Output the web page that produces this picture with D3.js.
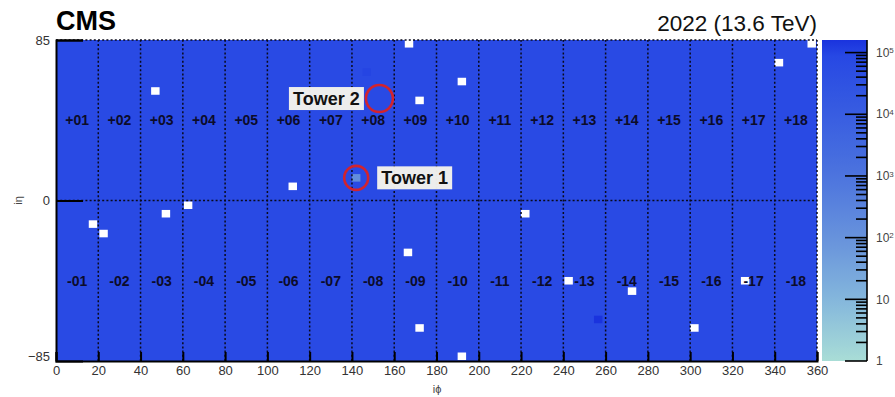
<!DOCTYPE html>
<html>
<head>
<meta charset="utf-8">
<script src="https://cdn.jsdelivr.net/npm/d3@7"></script>
<style>
  body { margin: 0; background: #fff; }
  svg { display: block; font-family: "Liberation Sans", Arial, Helvetica, sans-serif; }
</style>
</head>
<body>
<svg id="chart" width="895" height="397"></svg>
<script>
// ---- data -------------------------------------------------------------
const phiTicks = [0, 20, 40, 60, 80, 100, 120, 140, 160, 180, 200, 220, 240, 260, 280, 300, 320, 340, 360];
const etaTicks = [-85, 0, 85];
const colorTicks = [1, 10, 100, 1000, 10000, 100000];

// supermodule labels, one per 20 iphi
const smPlus  = ["+01","+02","+03","+04","+05","+06","+07","+08","+09","+10","+11","+12","+13","+14","+15","+16","+17","+18"];
const smMinus = ["-01","-02","-03","-04","-05","-06","-07","-08","-09","-10","-11","-12","-13","-14","-15","-16","-17","-18"];
const smPhiCentre = [10, 30, 50, 70, 90, 110, 130, 150, 170, 190, 210, 230, 250, 270, 290, 310, 330, 350];
const smEtaCentre = [42.5, -42.5];

// typical occupancy of a barrel crystal
const baseOccupancy = 70000;

// channels with no entries (iphi, ieta of block centre)
const deadPhi = [167, 47, 192, 172, 342, 357.5, 112, 17.5, 22.5, 52, 62.5, 222, 166.5, 242.5, 272.5, 326, 172, 302, 192];
const deadEta = [83, 58, 63, 53, 73, 83, 7.5, -12.5, -17.5, -7, -2.5, -7, -27.5, -42.5, -48, -42.5, -67.5, -67.5, -82.5];

// channels whose occupancy differs from the bulk
const oddPhi = [142, 147, 256.5];
const oddEta = [12, 68, -63];
const oddVal = [150, 105000, 160000];

// highlighted towers
const towerName = ["Tower 1", "Tower 2"];
const towerPhi  = [142, 153];
const towerEta  = [12, 54];

// ---- layout -----------------------------------------------------------
const svg = d3.select("#chart");
const L = 56, R = 817, T = 40, B = 361;
const cbL = 822, cbR = 867;

const x = d3.scaleLinear().domain([0, 360]).range([L, R]);
const y = d3.scaleLinear().domain([-85, 85]).range([B, T]);
const zmax = 160000;
const z = d3.scaleLog().domain([1, zmax]).range([B, T]);

const color = d3.scaleLog()
  .domain([1, 10, 100, 1000, 10000, 100000, zmax])
  .range(["#a9ddd6", "#84b6dc", "#6792dc", "#4c74de", "#385de1", "#2647e4", "#1a33de"])
  .interpolate(d3.interpolateRgb)
  .clamp(true);

const blockPhi = 4, blockEta = 4;

// ---- occupancy map ----------------------------------------------------
svg.append("rect")
  .attr("x", x(0)).attr("y", y(85))
  .attr("width", x(360) - x(0)).attr("height", y(-85) - y(85))
  .attr("fill", color(baseOccupancy));

svg.append("g").selectAll("rect")
  .data(oddPhi.map((p, i) => ({ p, e: oddEta[i], v: oddVal[i] })))
  .join("rect")
  .attr("x", d => x(d.p - blockPhi / 2))
  .attr("y", d => y(d.e + blockEta / 2))
  .attr("width", x(blockPhi) - x(0))
  .attr("height", y(0) - y(blockEta))
  .attr("fill", d => color(d.v));

svg.append("g").selectAll("rect")
  .data(deadPhi.map((p, i) => ({ p, e: deadEta[i] })))
  .join("rect")
  .attr("x", d => x(d.p - blockPhi / 2))
  .attr("y", d => y(d.e + blockEta / 2))
  .attr("width", x(blockPhi) - x(0))
  .attr("height", y(0) - y(blockEta))
  .attr("fill", "#ffffff");

// ---- grid (dotted) ----------------------------------------------------
const grid = svg.append("g")
  .attr("stroke", "#0a0a1a").attr("stroke-width", 1.5)
  .attr("stroke-dasharray", "2,2.2");
grid.selectAll("line.v").data(phiTicks.filter(d => d > 0)).join("line")
  .attr("class", "v")
  .attr("x1", d => x(d)).attr("x2", d => x(d))
  .attr("y1", y(-85)).attr("y2", y(85));
grid.selectAll("line.h").data(etaTicks.filter(d => d > -85)).join("line")
  .attr("class", "h")
  .attr("x1", x(0)).attr("x2", x(360))
  .attr("y1", d => y(d)).attr("y2", d => y(d));

// ---- supermodule labels ----------------------------------------------
const smG = svg.append("g")
  .attr("font-size", 14).attr("font-weight", "bold")
  .attr("fill", "#0c0c2a").attr("text-anchor", "middle");
smG.selectAll("text.p").data(smPlus).join("text")
  .attr("class", "p")
  .attr("x", (d, i) => x(smPhiCentre[i]))
  .attr("y", y(smEtaCentre[0])).attr("dy", "0.36em")
  .text(d => d);
smG.selectAll("text.m").data(smMinus).join("text")
  .attr("class", "m")
  .attr("x", (d, i) => x(smPhiCentre[i]))
  .attr("y", y(smEtaCentre[1])).attr("dy", "0.36em")
  .text(d => d);

// ---- axes ---------------------------------------------------------------
const xAxis = d3.axisBottom(x).tickValues(phiTicks).tickSize(-9).tickPadding(5).tickFormat(d3.format("d"));
const gx = svg.append("g").attr("transform", `translate(0,${B})`).call(xAxis);
gx.select(".domain").attr("stroke", "#000").attr("stroke-width", 2);
gx.selectAll(".tick line").attr("stroke", "#000").attr("stroke-width", 2);
gx.selectAll(".tick text").attr("font-size", 13).attr("fill", "#333")
  .attr("font-family", "Liberation Sans, Arial, sans-serif");

const yAxis = d3.axisLeft(y).tickValues(etaTicks).tickSize(-27).tickPadding(6)
  .tickFormat(d => d < 0 ? "\u2212" + Math.abs(d) : d);
const gy = svg.append("g").attr("transform", `translate(${L},0)`).call(yAxis);
gy.select(".domain").attr("stroke", "#000").attr("stroke-width", 2);
gy.selectAll(".tick line").attr("stroke", "#000").attr("stroke-width", 2)
  .attr("display", d => d === 85 || d === 0 ? null : "none");
gy.selectAll(".tick text").attr("font-size", 13).attr("fill", "#333")
  .attr("font-family", "Liberation Sans, Arial, sans-serif")
  .attr("dy", d => d === -85 ? "-0.05em" : "0.32em");

svg.append("text").attr("x", 437).attr("y", 393)
  .attr("text-anchor", "middle").attr("font-size", 11).attr("fill", "#444")
  .text("i\u03D5");
svg.append("text")
  .attr("transform", `translate(22,${y(0)}) rotate(-90)`)
  .attr("text-anchor", "middle").attr("font-size", 11).attr("fill", "#444")
  .text("i\u03B7");

// ---- highlighted towers ------------------------------------------------
const towerG = svg.append("g");
towerName.forEach((name, i) => {
  const cx = x(towerPhi[i]), cy = y(towerEta[i]);
  const r = i === 0 ? 12 : 13.5;
  towerG.append("circle").attr("cx", cx).attr("cy", cy).attr("r", r)
    .attr("fill", "none").attr("stroke", "#d2232e").attr("stroke-width", 2.6);
  const tw = 75, th = 23;
  const bx = i === 0 ? cx + r + 9 : cx - r - 2 - tw;
  towerG.append("rect").attr("x", bx).attr("y", cy - th / 2).attr("width", tw).attr("height", th)
    .attr("fill", "#f8f5ec").attr("opacity", 0.95);
  towerG.append("text").attr("x", bx + tw / 2).attr("y", cy).attr("dy", "0.36em")
    .attr("text-anchor", "middle").attr("font-size", 18).attr("font-weight", "bold")
    .attr("fill", "#111").text(name);
});

// ---- colour bar ---------------------------------------------------------
const defs = svg.append("defs");
const grad = defs.append("linearGradient").attr("id", "cbar")
  .attr("x1", 0).attr("x2", 0).attr("y1", 1).attr("y2", 0);
d3.range(0, 1.0001, 0.05).forEach(t => {
  const v = Math.pow(10, t * Math.log10(zmax));
  grad.append("stop").attr("offset", t).attr("stop-color", color(v));
});
svg.append("rect").attr("x", cbL).attr("y", T).attr("width", cbR - cbL).attr("height", B - T)
  .attr("fill", "url(#cbar)");

const minor = [];
for (let dec = 1; dec <= 100000; dec *= 10) {
  for (let k = 2; k <= 9; k++) if (dec * k <= zmax) minor.push(dec * k);
}
const cbG = svg.append("g").attr("stroke", "#000").attr("stroke-width", 1.6);
cbG.append("line").attr("x1", cbR).attr("x2", cbR).attr("y1", z(zmax)).attr("y2", z(1));
cbG.selectAll("line.maj").data(colorTicks).join("line").attr("class", "maj")
  .attr("x1", cbR - 22).attr("x2", cbR).attr("y1", d => z(d)).attr("y2", d => z(d));
cbG.selectAll("line.min").data(minor).join("line").attr("class", "min")
  .attr("x1", cbR - 11).attr("x2", cbR).attr("y1", d => z(d)).attr("y2", d => z(d));

const cbLab = svg.append("g").attr("font-size", 12).attr("fill", "#444");
colorTicks.forEach(v => {
  const e = Math.round(Math.log10(v));
  const t = cbLab.append("text").attr("x", 876).attr("y", z(v)).attr("dy", "0.35em");
  if (e === 0) t.text("1");
  else if (e === 1) t.text("10");
  else {
    t.append("tspan").text("10");
    t.append("tspan").attr("dy", "-0.45em").attr("font-size", 8).text(e);
  }
});

// ---- titles -------------------------------------------------------------
svg.append("text").attr("x", 56).attr("y", 30)
  .attr("font-size", 27).attr("font-weight", "bold").attr("fill", "#000")
  .text("CMS");
svg.append("text").attr("x", 817).attr("y", 31).attr("text-anchor", "end")
  .attr("font-size", 22.5).attr("fill", "#111")
  .text("2022 (13.6 TeV)");
</script>
</body>
</html>
